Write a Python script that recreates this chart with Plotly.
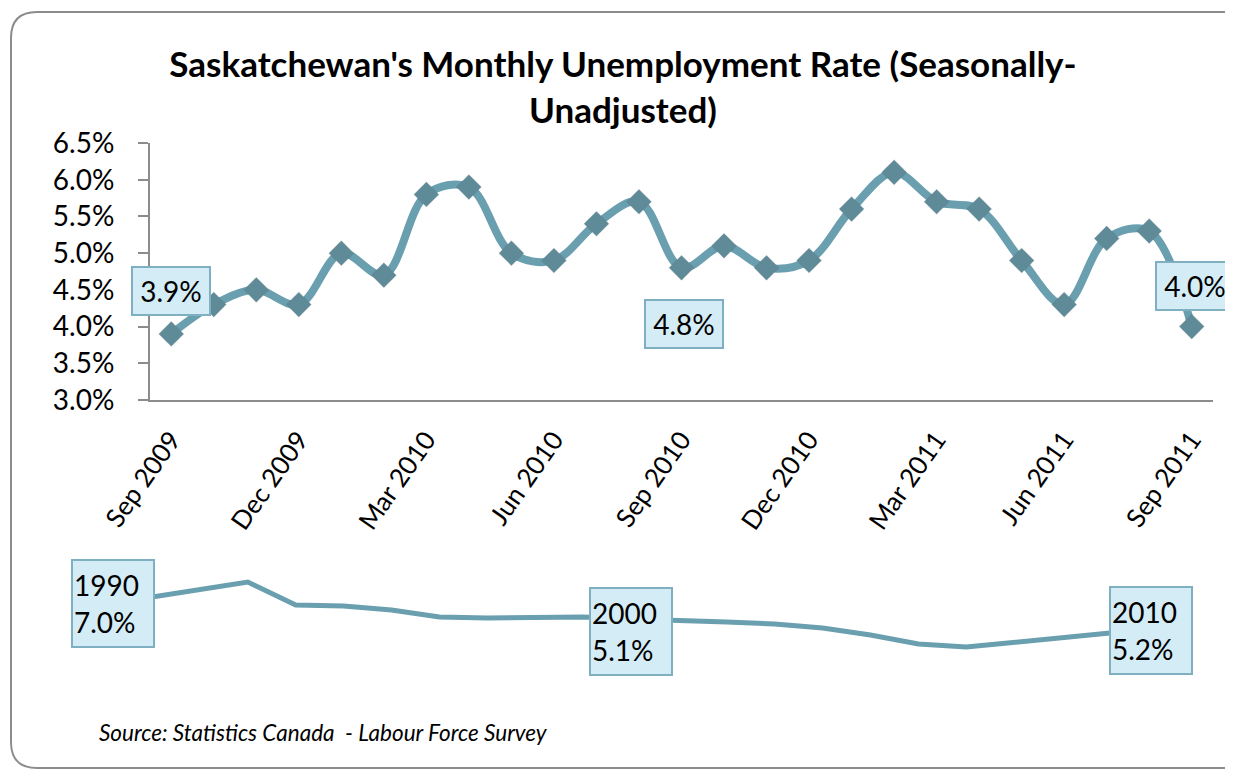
import plotly.graph_objects as go

# ---------------- data ----------------
months = ["Sep 2009", "Oct 2009", "Nov 2009", "Dec 2009", "Jan 2010", "Feb 2010",
          "Mar 2010", "Apr 2010", "May 2010", "Jun 2010", "Jul 2010", "Aug 2010",
          "Sep 2010", "Oct 2010", "Nov 2010", "Dec 2010", "Jan 2011", "Feb 2011",
          "Mar 2011", "Apr 2011", "May 2011", "Jun 2011", "Jul 2011", "Aug 2011",
          "Sep 2011"]
monthly_rate = [3.9, 4.3, 4.5, 4.3, 5.0, 4.7, 5.8, 5.9, 5.0, 4.9, 5.4, 5.7,
                4.8, 5.1, 4.8, 4.9, 5.6, 6.1, 5.7, 5.6, 4.9, 4.3, 5.2, 5.3, 4.0]
labelled_months = ["Sep 2009", "Sep 2010", "Sep 2011"]

years = list(range(1990, 2011))
annual_trend = [7.0, 7.4, 7.75, 6.6, 6.55, 6.35, 6.0, 5.95, 6.0, 6.0, 5.9,
                5.85, 5.75, 5.65, 5.45, 5.1, 4.65, 4.5, 4.75, 4.95, 5.2]
annual_labels = {1990: "7.0%", 2000: "5.1%", 2010: "5.2%"}

y_ticks = [3.0, 3.5, 4.0, 4.5, 5.0, 5.5, 6.0, 6.5]

# ---------------- style ----------------
OFF = 8                      # default page body margin
W, H = 1233 - OFF, 770 - OFF
LINE = "#6A9FB0"
GRID = "#8C8C8C"
FONT = "Lato"
FS = 28
BOX_BG = "#D4ECF6"
BOX_BORDER = "#7EB0C2"

def px(x):
    return (x - OFF) / W

def py(y):
    return 1 - (y - OFF) / H

idx = list(range(len(months)))
n = len(months)

fig = go.Figure()

# soft marker shadow (same data, axes nudged a few pixels)
fig.add_trace(go.Scatter(
    x=idx, y=monthly_rate, mode="markers",
    marker=dict(symbol="diamond", size=20, color="rgba(40,40,40,0.16)"),
    xaxis="x4", yaxis="y4", hoverinfo="skip", showlegend=False))

# main series
fig.add_trace(go.Scatter(
    x=idx, y=monthly_rate, mode="lines+markers",
    line=dict(color=LINE, width=8, shape="spline", smoothing=1.0),
    marker=dict(symbol="diamond", size=19, color=LINE),
    xaxis="x", yaxis="y", hoverinfo="skip", showlegend=False))

# sparkline series
fig.add_trace(go.Scatter(
    x=years, y=annual_trend, mode="lines",
    line=dict(color=LINE, width=5),
    xaxis="x3", yaxis="y3", hoverinfo="skip", showlegend=False))

annotations = []
# monthly data labels
label_offsets = {"Sep 2009": (0, 43), "Sep 2010": (2, -56), "Sep 2011": (3, 41)}
for m in labelled_months:
    i = months.index(m)
    dx, dy = label_offsets[m]
    annotations.append(dict(
        x=i, y=monthly_rate[i], xref="x", yref="y", showarrow=False,
        text=f"{monthly_rate[i]:.1f}%", xshift=dx, yshift=dy,
        font=dict(family=FONT, size=FS, color="black"),
        bgcolor=BOX_BG, bordercolor=BOX_BORDER, borderwidth=2, borderpad=1,
        width=74, height=44))

# sparkline labels
spark_offsets = {1990: (-39, -6), 2000: (0, -12), 2010: (41, 3)}
for yr, txt in annual_labels.items():
    i = years.index(yr)
    dx, dy = spark_offsets[yr]
    annotations.append(dict(
        x=yr, y=annual_trend[i], xref="x3", yref="y3", showarrow=False,
        text=f"{yr}<br>{txt}", xshift=dx, yshift=dy, align="left",
        font=dict(family=FONT, size=FS, color="black"),
        bgcolor=BOX_BG, bordercolor=BOX_BORDER, borderwidth=2, borderpad=1,
        width=78, height=83))

# source note
annotations.append(dict(
    x=px(97), y=py(732), xref="paper", yref="paper", xanchor="left", yanchor="middle",
    showarrow=False, text="<i>Source: Statistics Canada  - Labour Force Survey</i>",
    font=dict(family=FONT, size=22.5, color="black")))

# outer rounded frame
x0, x1, y0, y1, r = 11, 1255, 12, 768, 26
path = (f"M {px(x0+r)},{py(y0)} L {px(x1-r)},{py(y0)} "
        f"Q {px(x1)},{py(y0)} {px(x1)},{py(y0+r)} L {px(x1)},{py(y1-r)} "
        f"Q {px(x1)},{py(y1)} {px(x1-r)},{py(y1)} L {px(x0+r)},{py(y1)} "
        f"Q {px(x0)},{py(y1)} {px(x0)},{py(y1-r)} L {px(x0)},{py(y0+r)} "
        f"Q {px(x0)},{py(y0)} {px(x0+r)},{py(y0)} Z")

fig.update_layout(
    width=W, height=H,
    margin=dict(l=0, r=0, t=0, b=0, autoexpand=False),
    paper_bgcolor="white", plot_bgcolor="rgba(0,0,0,0)",
    font=dict(family=FONT, color="black"),
    title=dict(
        text="<b>Saskatchewan's Monthly Unemployment Rate (Seasonally-<br>Unadjusted)</b>",
        x=px(623), xanchor="center", y=py(77), yanchor="top",
        font=dict(family=FONT, size=35, color="black")),
    xaxis=dict(
        domain=[px(150), px(1213)], range=[-0.5, n - 0.5],
        tickvals=[i for i in idx if i % 3 == 0],
        ticktext=[months[i] for i in idx if i % 3 == 0],
        tickangle=-55, ticks="", ticklabelstandoff=12,
        showgrid=False, zeroline=False, automargin=False,
        showline=True, linecolor=GRID, linewidth=2,
        tickfont=dict(family=FONT, size=26, color="black"), anchor="y"),
    xaxis2=dict(
        domain=[px(150), px(1213)], range=[-0.5, n - 0.5], overlaying="x",
        tickvals=[i - 0.5 for i in idx if i % 3 == 0],
        ticks="outside", ticklen=10, tickwidth=2, tickcolor=GRID,
        showticklabels=False, showgrid=False, zeroline=False, showline=False,
        automargin=False, anchor="y", side="bottom"),
    yaxis=dict(
        domain=[py(400), py(143)], range=[3.0, 6.5],
        tickvals=y_ticks, ticktext=[f"{v:.1f}%" for v in y_ticks],
        ticks="outside", ticklen=10, tickwidth=2, tickcolor=GRID,
        ticklabelstandoff=18, automargin=False,
        showgrid=False, zeroline=False, showline=True, linecolor=GRID, linewidth=2,
        tickfont=dict(family=FONT, size=FS, color="black"), anchor="x"),
    xaxis4=dict(
        domain=[px(153), px(1216)], range=[-0.5, n - 0.5], overlaying="x",
        visible=False, automargin=False, anchor="y4"),
    yaxis4=dict(
        domain=[py(403), py(146)], range=[3.0, 6.5], overlaying="y",
        visible=False, automargin=False, anchor="x4"),
    xaxis3=dict(
        domain=[px(152), px(1110)], range=[1990, 2010], visible=False,
        automargin=False, anchor="y3"),
    yaxis3=dict(
        domain=[py(657), py(577)], range=[4.0, 8.0], visible=False,
        automargin=False, anchor="x3"),
    annotations=annotations,
    shapes=[dict(type="path", path=path, xref="paper", yref="paper",
                 line=dict(color="#8C8C8C", width=2), layer="below")],
)

fig.write_html("out.html")
